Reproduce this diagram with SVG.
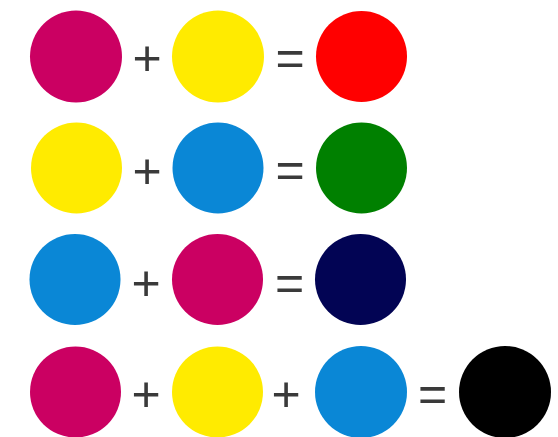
<svg xmlns="http://www.w3.org/2000/svg" width="558" height="437" viewBox="0 0 558 437">
<style>
.op{font-family:"Liberation Sans",Arial,sans-serif;font-size:50px;fill:#3a3a3a;text-anchor:middle}
.m{fill:#CB0062}.y{fill:#FFEB00}.c{fill:#0A87D6}
</style>
<rect width="558" height="437" fill="#fff"/>
<g id="row1">
<circle class="m" cx="76" cy="56.5" r="46"/>
<text class="op" x="147" y="75">+</text>
<circle class="y" cx="218" cy="56.5" r="46"/>
<text class="op" x="290" y="75">=</text>
<circle cx="361.5" cy="56.5" r="45.5" fill="#FF0000"/>
</g>
<g id="row2">
<circle class="y" cx="76.5" cy="168" r="45.5"/>
<text class="op" x="147" y="187.5">+</text>
<circle class="c" cx="218" cy="168" r="45.5"/>
<text class="op" x="290" y="186.5">=</text>
<circle cx="361.5" cy="168" r="45.5" fill="#008000"/>
</g>
<g id="row3">
<circle class="c" cx="75" cy="279.5" r="45.5"/>
<text class="op" x="146" y="299.5">+</text>
<circle class="m" cx="217.5" cy="279.5" r="45.5"/>
<text class="op" x="289.5" y="299.5">=</text>
<circle cx="360.5" cy="279.5" r="45.5" fill="#020454"/>
</g>
<g id="row4">
<circle class="m" cx="75.5" cy="392" r="45.5"/>
<text class="op" x="146" y="411">+</text>
<circle class="y" cx="217.5" cy="392" r="45.5"/>
<text class="op" x="286" y="411">+</text>
<circle class="c" cx="361" cy="392" r="46"/>
<text class="op" x="432.5" y="411">=</text>
<circle cx="505" cy="392" r="46" fill="#000"/>
</g>
</svg>
